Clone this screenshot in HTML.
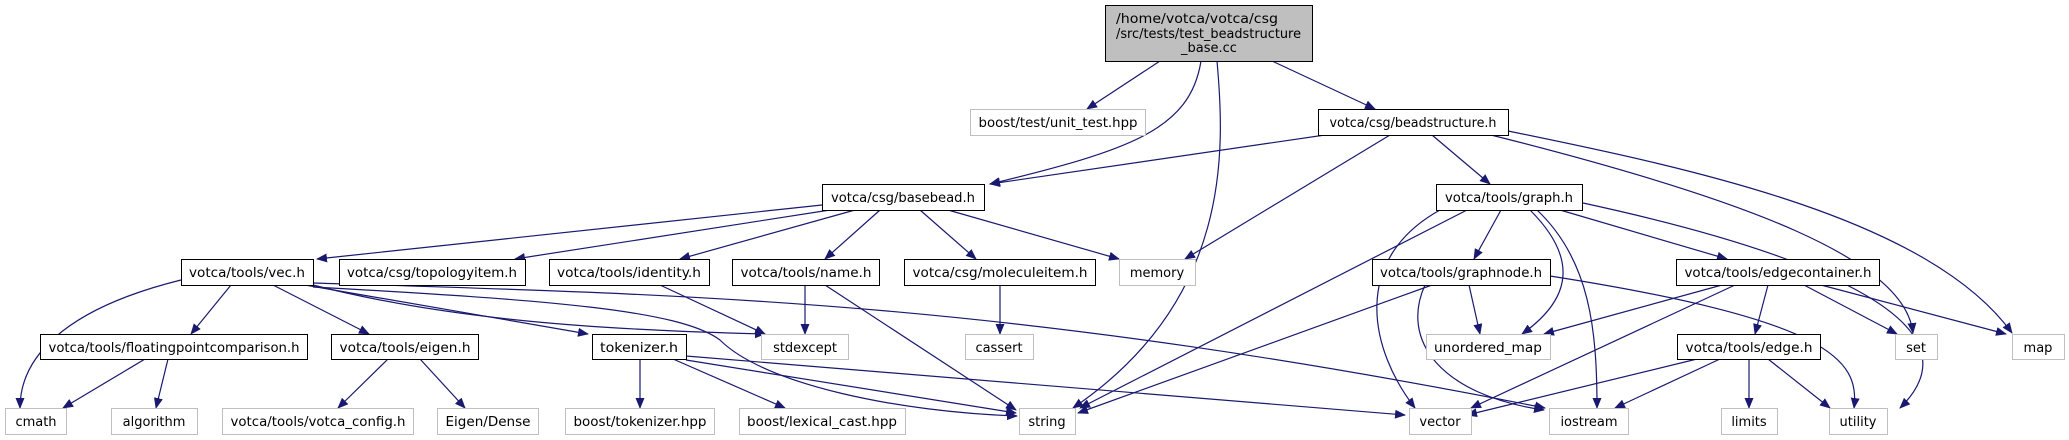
<!DOCTYPE html>
<html><head><meta charset="utf-8"><style>
html,body{margin:0;padding:0;background:#fff;}
svg{display:block;}
text{font-family:"DejaVu Sans","Liberation Sans",sans-serif;font-size:13px;fill:#000;}
.e{fill:none;stroke:#191970;stroke-width:1.2;marker-end:url(#a);}
.d{fill:#fff;stroke:#000;stroke-width:1;}
.x{fill:#fff;stroke:#bfbfbf;stroke-width:1;}
</style></head><body>
<svg width="2069" height="440" viewBox="0 0 2069 440" xmlns="http://www.w3.org/2000/svg">
<defs><marker id="a" markerWidth="11" markerHeight="9" refX="10" refY="4.5" orient="auto" markerUnits="userSpaceOnUse"><path d="M0,0 L11,4.5 L0,9 z" fill="#191970"/></marker></defs>
<g>
<path class="e" d="M1160,61 L1087,109"/>
<path class="e" d="M1272,61 L1375,109"/>
<path class="e" d="M1201,61 C1190,130 1130,150 990,184"/>
<path class="e" d="M1217,61 C1225,150 1232,300 1073,408"/>
<path class="e" d="M1325,135 L990,184"/>
<path class="e" d="M1390,135 L1185,259"/>
<path class="e" d="M1432,135 L1490,184"/>
<path class="e" d="M1491,135 C1750,200 1905,260 1913,333"/>
<path class="e" d="M1508,131 C1700,170 1930,220 2012,333"/>
<path class="e" d="M822,205 L317,259"/>
<path class="e" d="M830,210 L515,259"/>
<path class="e" d="M855,210 L680,259"/>
<path class="e" d="M880,210 L825,259"/>
<path class="e" d="M920,210 L976,259"/>
<path class="e" d="M948,210 L1119,259"/>
<path class="e" d="M1440,210 C1350,260 1370,350 1415,408"/>
<path class="e" d="M1467,210 L1080,408"/>
<path class="e" d="M1501,210 L1474,259"/>
<path class="e" d="M1530,210 C1580,260 1570,300 1522,334"/>
<path class="e" d="M1537,210 C1590,260 1597,330 1597,408"/>
<path class="e" d="M1560,210 L1727,259"/>
<path class="e" d="M1583,203 C1800,250 1990,320 1900,408"/>
<path class="e" d="M181,280 C60,310 20,360 20,408"/>
<path class="e" d="M231,285 L191,334"/>
<path class="e" d="M273,285 L369,334"/>
<path class="e" d="M305,285 L588,334"/>
<path class="e" d="M313,285 C450,320 600,330 765,334"/>
<path class="e" d="M313,287 C550,300 680,310 720,340 C765,385 900,412 1017,416"/>
<path class="e" d="M313,283 C700,295 1000,300 1545,408"/>
<path class="e" d="M660,285 L765,334"/>
<path class="e" d="M805,285 L805,334"/>
<path class="e" d="M825,285 L1016,410"/>
<path class="e" d="M1000,285 L1000,334"/>
<path class="e" d="M1432,285 L1078,413"/>
<path class="e" d="M1469,285 L1480,334"/>
<path class="e" d="M1425,285 C1400,340 1440,395 1544,410"/>
<path class="e" d="M1550,276 C1830,320 1860,360 1854,408"/>
<path class="e" d="M1722,285 L1544,334"/>
<path class="e" d="M1735,285 L1471,408"/>
<path class="e" d="M1768,285 L1755,334"/>
<path class="e" d="M1804,285 L1897,334"/>
<path class="e" d="M1821,285 L2006,334"/>
<path class="e" d="M145,359 L63,408"/>
<path class="e" d="M168,359 L156,408"/>
<path class="e" d="M388,359 L338,408"/>
<path class="e" d="M420,359 L465,408"/>
<path class="e" d="M640,359 L640,408"/>
<path class="e" d="M673,359 L785,408"/>
<path class="e" d="M686,360 L1016,413"/>
<path class="e" d="M686,356 L1405,415"/>
<path class="e" d="M1697,359 L1467,415"/>
<path class="e" d="M1720,359 L1615,408"/>
<path class="e" d="M1749,359 L1749,408"/>
<path class="e" d="M1768,359 L1830,408"/>
</g>
<rect x="1105.5" y="5.5" width="207" height="56" fill="#bfbfbf" stroke="#000"/>
<text x="1116" y="23" textLength="162" lengthAdjust="spacingAndGlyphs">/home/votca/votca/csg</text>
<text x="1116" y="38" textLength="185" lengthAdjust="spacingAndGlyphs">/src/tests/test_beadstructure</text>
<text x="1209" y="52" text-anchor="middle">_base.cc</text>
<g>
<rect class="x" x="970.5" y="109.5" width="175" height="26"/><text x="1058" y="127" text-anchor="middle" textLength="159" lengthAdjust="spacingAndGlyphs">boost/test/unit_test.hpp</text>
<rect class="d" x="1318.5" y="109.5" width="190" height="26"/><text x="1413" y="127" text-anchor="middle" textLength="167" lengthAdjust="spacingAndGlyphs">votca/csg/beadstructure.h</text>
<rect class="d" x="822.5" y="184.5" width="162" height="26"/><text x="903" y="202" text-anchor="middle" textLength="144" lengthAdjust="spacingAndGlyphs">votca/csg/basebead.h</text>
<rect class="d" x="1436.5" y="184.5" width="146" height="26"/><text x="1509" y="202" text-anchor="middle" textLength="128" lengthAdjust="spacingAndGlyphs">votca/tools/graph.h</text>

<rect class="d" x="181.5" y="259.5" width="132" height="26"/><text x="247" y="277" text-anchor="middle" textLength="116" lengthAdjust="spacingAndGlyphs">votca/tools/vec.h</text>
<rect class="d" x="339.5" y="259.5" width="186" height="26"/><text x="432" y="277" text-anchor="middle" textLength="170" lengthAdjust="spacingAndGlyphs">votca/csg/topologyitem.h</text>
<rect class="d" x="549.5" y="259.5" width="160" height="26"/><text x="629" y="277" text-anchor="middle" textLength="144" lengthAdjust="spacingAndGlyphs">votca/tools/identity.h</text>
<rect class="d" x="732.5" y="259.5" width="147" height="26"/><text x="806" y="277" text-anchor="middle" textLength="131" lengthAdjust="spacingAndGlyphs">votca/tools/name.h</text>
<rect class="d" x="904.5" y="259.5" width="191" height="26"/><text x="1000" y="277" text-anchor="middle" textLength="175" lengthAdjust="spacingAndGlyphs">votca/csg/moleculeitem.h</text>
<rect class="x" x="1119.5" y="259.5" width="76" height="26"/><text x="1157" y="277" text-anchor="middle">memory</text>
<rect class="d" x="1372.5" y="259.5" width="178" height="26"/><text x="1461" y="277" text-anchor="middle" textLength="162" lengthAdjust="spacingAndGlyphs">votca/tools/graphnode.h</text>
<rect class="d" x="1676.5" y="259.5" width="203" height="26"/><text x="1778" y="277" text-anchor="middle" textLength="187" lengthAdjust="spacingAndGlyphs">votca/tools/edgecontainer.h</text>

<rect class="d" x="40.5" y="334.5" width="267" height="25"/><text x="174" y="352" text-anchor="middle" textLength="251" lengthAdjust="spacingAndGlyphs">votca/tools/floatingpointcomparison.h</text>
<rect class="d" x="331.5" y="334.5" width="147" height="25"/><text x="405" y="352" text-anchor="middle" textLength="131" lengthAdjust="spacingAndGlyphs">votca/tools/eigen.h</text>
<rect class="d" x="592.5" y="334.5" width="94" height="25"/><text x="639" y="352" text-anchor="middle" textLength="78" lengthAdjust="spacingAndGlyphs">tokenizer.h</text>
<rect class="x" x="761.5" y="334.5" width="87" height="25"/><text x="805" y="352" text-anchor="middle">stdexcept</text>
<rect class="x" x="965.5" y="334.5" width="68" height="25"/><text x="999" y="352" text-anchor="middle">cassert</text>
<rect class="x" x="1426.5" y="334.5" width="124" height="25"/><text x="1488" y="352" text-anchor="middle" textLength="108" lengthAdjust="spacingAndGlyphs">unordered_map</text>
<rect class="d" x="1677.5" y="334.5" width="143" height="25"/><text x="1749" y="352" text-anchor="middle" textLength="127" lengthAdjust="spacingAndGlyphs">votca/tools/edge.h</text>
<rect class="x" x="1895.5" y="334.5" width="42" height="25"/><text x="1916" y="352" text-anchor="middle">set</text>
<rect class="x" x="2012.5" y="334.5" width="52" height="25"/><text x="2038" y="352" text-anchor="middle">map</text>

<rect class="x" x="5.5" y="408.5" width="61" height="26"/><text x="36" y="426" text-anchor="middle">cmath</text>
<rect class="x" x="111.5" y="408.5" width="86" height="26"/><text x="154" y="426" text-anchor="middle">algorithm</text>
<rect class="x" x="222.5" y="408.5" width="191" height="26"/><text x="318" y="426" text-anchor="middle" textLength="175" lengthAdjust="spacingAndGlyphs">votca/tools/votca_config.h</text>
<rect class="x" x="437.5" y="408.5" width="101" height="26"/><text x="488" y="426" text-anchor="middle" textLength="85" lengthAdjust="spacingAndGlyphs">Eigen/Dense</text>
<rect class="x" x="565.5" y="408.5" width="149" height="26"/><text x="640" y="426" text-anchor="middle" textLength="133" lengthAdjust="spacingAndGlyphs">boost/tokenizer.hpp</text>
<rect class="x" x="739.5" y="408.5" width="166" height="26"/><text x="822" y="426" text-anchor="middle" textLength="150" lengthAdjust="spacingAndGlyphs">boost/lexical_cast.hpp</text>
<rect class="x" x="1019.5" y="408.5" width="56" height="26"/><text x="1047" y="426" text-anchor="middle">string</text>
<rect class="x" x="1409.5" y="408.5" width="62" height="26"/><text x="1440" y="426" text-anchor="middle">vector</text>
<rect class="x" x="1549.5" y="408.5" width="79" height="26"/><text x="1589" y="426" text-anchor="middle">iostream</text>
<rect class="x" x="1721.5" y="408.5" width="56" height="26"/><text x="1749" y="426" text-anchor="middle">limits</text>
<rect class="x" x="1829.5" y="408.5" width="58" height="26"/><text x="1858" y="426" text-anchor="middle">utility</text>
</g>
</svg>
</body></html>
